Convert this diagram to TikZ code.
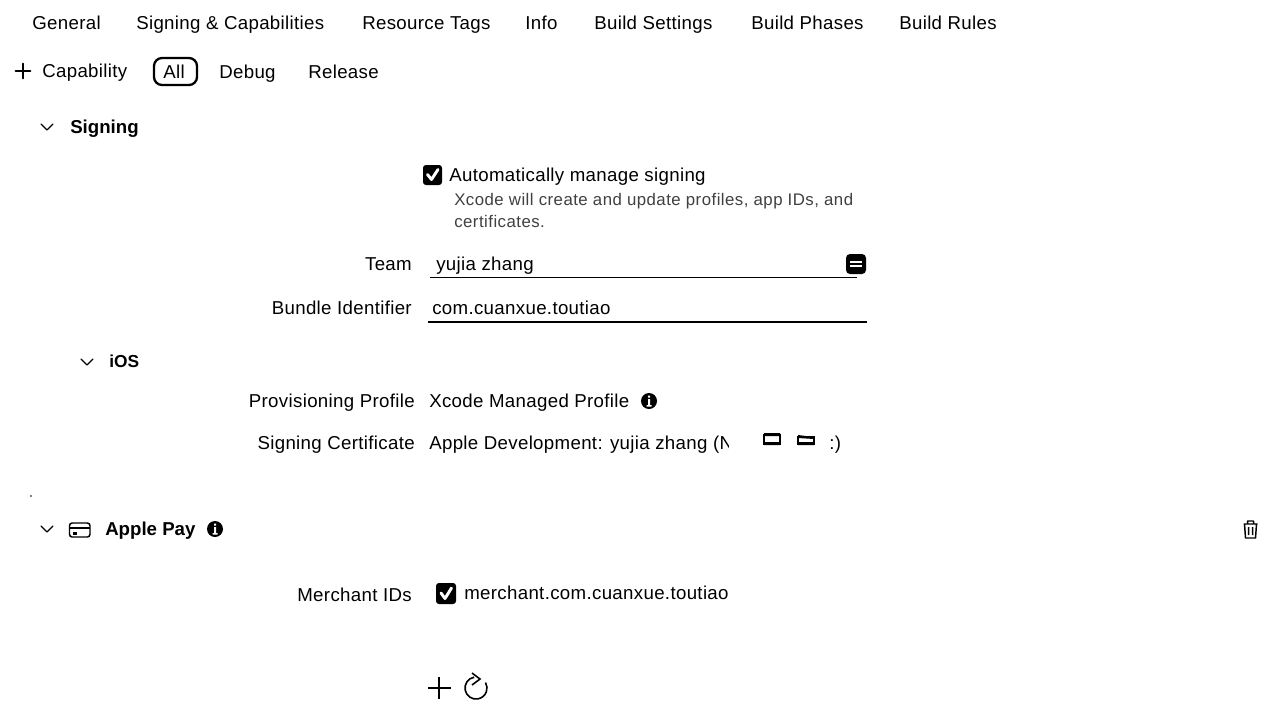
\documentclass[tikz,border=0pt]{standalone}
\usepackage{fontspec}
\setmainfont{Liberation Sans}
\newfontfamily\lblfont[LetterSpace=1.8]{Liberation Sans}
\newfontfamily\smallfont[LetterSpace=2.8]{Liberation Sans}
\begin{document}
\begin{tikzpicture}[x=0.75pt,y=-0.75pt,
  lbl/.style={anchor=base west,inner sep=0pt,font=\lblfont\fontsize{14pt}{16pt}\selectfont},
  lblr/.style={anchor=base east,inner sep=0pt,font=\lblfont\fontsize{14pt}{16pt}\selectfont},
  head/.style={anchor=base west,inner sep=0pt,font=\fontsize{14pt}{16pt}\selectfont\bfseries},
  small/.style={anchor=base west,inner sep=0pt,font=\smallfont\fontsize{12.6pt}{15pt}\selectfont,text=black!75},
  icon/.style={line width=1pt,line cap=round,line join=round},
  infoicon/.style={circle,fill=black,minimum size=12pt,inner sep=0pt}]
\useasboundingbox[fill=white] (0,0) rectangle (1280,725);
% tabs
\node[lbl] (t1) at (32,29) {General};
\node[lbl] (t2) at (136,29) {Signing \& Capabilities};
\node[lbl] (t3) at (362,29) {Resource Tags};
\node[lbl] (t4) at (525,29) {Info};
\node[lbl] (t5) at (594,29) {Build Settings};
\node[lbl] (t6) at (751,29) {Build Phases};
\node[lbl] (t7) at (899,29) {Build Rules};
% filter bar
\draw[icon,line width=1.2pt] (15.5,71) -- (30.5,71) (23,63.5) -- (23,78.5);
\node[lbl] (cap) at (42,77.5) {Capability};
\draw[line width=1.7pt,rounded corners=6pt] (154,58) rectangle (197,85);
\node[lbl] (all) at (163,78) {All};
\node[lbl] (dbg) at (219,78) {Debug};
\node[lbl] (rel) at (308,78) {Release};
% signing
\draw[icon] (41,124) -- (47,130) -- (53,124);
\node[head] (sig) at (70,133) {Signing};
\fill[rounded corners=2.2pt] (423,165) rectangle (442,185);
\draw[white,line width=2.2pt,line cap=round,line join=round] (427.5,174.5) -- (431.5,179.5) -- (438,169.5);
\node[lbl] (ams) at (449,181) {Automatically manage signing};
\node[small] (x1) at (454,205) {Xcode will create and update profiles, app IDs, and};
\node[small] (x2) at (454,227) {certificates.};
\node[lblr] (team) at (412,270) {Team};
\node[lbl] (yz) at (436,270) {yujia zhang};
\fill[rounded corners=3pt] (846,254) rectangle (866,274);
\draw[white,line width=1.2pt] (850,262) -- (862,262) (850,266) -- (862,266);
\draw[line width=0.9pt] (430,277.5) -- (857,277.5);
\node[lblr] (bid) at (412,314.5) {Bundle Identifier};
\node[lbl] (com) at (432,314.5) {com.cuanxue.toutiao};
\draw[line width=0.9pt] (428,322) -- (867,322);
% iOS
\draw[icon] (81,359) -- (87,365) -- (93,359);
\node[head,font=\fontsize{13pt}{16pt}\selectfont\bfseries] (ios) at (109,367) {iOS};
\node[lblr] (pp) at (415,407.5) {Provisioning Profile};
\node[lbl] (xmp) at (429,407.5) {Xcode Managed Profile};
\node[infoicon] (inf1) at (649,401) {};
\fill[white] (648,395.5) rectangle (650,397.5) (648,399) rectangle (650,405) (646.5,405) rectangle (651.5,406.5);
\node[lblr] (sc) at (415,449.5) {Signing Certificate};
\node[lbl] (ad) at (429,449.5) {Apple Development: yujia zhang (N};
\fill[white] (729,430) rectangle (760,456);
\draw[line width=1.8pt,fill=white] (764,435) rectangle (780,444);
\fill (764,433) rectangle (780,436) (764,442) rectangle (780,445);
\draw[line width=1.8pt,fill=white] (798,437) rectangle (814,444);
\fill (798,435) -- (814,437) -- (814,439) -- (798,438) -- cycle (798,442) rectangle (814,445);
\node[lbl] (colon) at (829,449.5) {:)};
\fill (31,496) circle (0.8);
% apple pay
\draw[icon] (41,526) -- (47,532) -- (53,526);
\draw[line width=1.1pt,rounded corners=2pt] (69.5,523) rectangle (90,537);
\draw[line width=1.5pt] (69.5,527.5) -- (90,527.5);
\fill (73,532) rectangle (76.5,534.5);
\node[head] (ap) at (105,535) {Apple Pay};
\node[infoicon] (inf2) at (215,529) {};
\fill[white] (214,523.5) rectangle (216,525.5) (214,527) rectangle (216,533) (212.5,533) rectangle (217.5,534.5);
% trash
\draw[line width=1.1pt,line join=round] (1243.5,524) -- (1257.5,524) (1247.5,524) -- (1247.5,521) -- (1253.5,521) -- (1253.5,524) (1244.5,524) -- (1245.5,538) -- (1255.5,538) -- (1256.5,524) (1248.5,527) -- (1248.5,535) (1252.5,527) -- (1252.5,535);
% merchant
\node[lblr] (mid) at (412,601) {Merchant IDs};
\fill[rounded corners=2.2pt] (436,583) rectangle (456,604);
\draw[white,line width=2.2pt,line cap=round,line join=round] (441,593) -- (445,598.5) -- (451.5,588);
\node[lbl] (mc) at (464,599.5) {merchant.com.cuanxue.toutiao};
% add refresh
\draw[line width=1.3pt] (428,688) -- (451,688) (439,677) -- (439,699);
\draw[line width=1.2pt] (474.1,677.2) arc[start angle=260,end angle=-30,radius=11];
\draw[line width=1.2pt,line join=miter] (472,673) -- (480,679) -- (472,685);
\end{tikzpicture}
\end{document}
